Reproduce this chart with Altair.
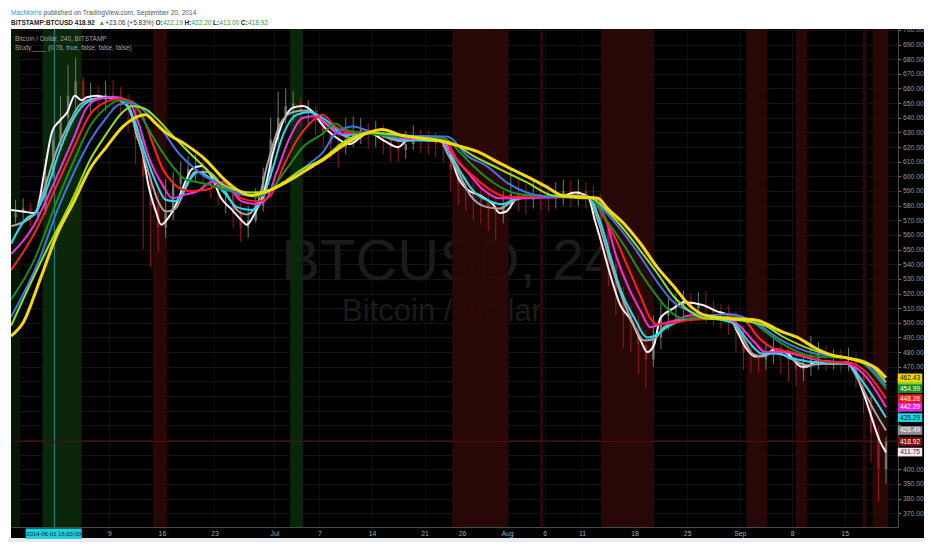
import altair as alt
import pandas as pd

FONT = "Liberation Sans, Arial, sans-serif"
W, H = 887, 498

X_DOMAIN = [-5.11, 113.1]        # days since 2014-06-01 00:00
Y_DOMAIN = [360.6, 700.6]

TICK_DAYS = [8, 15, 22, 30, 36, 43, 50, 55, 61, 66, 71, 78, 85, 92, 99, 106]
TICK_LABELS = ["9", "16", "23", "Jul", "7", "14", "21", "26", "Aug", "6", "11", "18", "25", "Sep", "8", "15"]
PRICE_TICKS = list(range(370, 701, 10))
HIDDEN_PRICE_LABELS = [410, 420, 430, 440, 450, 460]   # covered by the last-value tags

# ---- daily price bars (day index from 2014-06-01) ----
BAR_DAY = list(range(-5, 112))
FIRST_OPEN = 572
CLOSE = [575, 578, 572, 576, 600, 625, 640, 655, 665, 650, 655, 652, 656, 655, 650,
         648, 625, 600, 580, 565, 575, 595, 600, 605, 605, 600, 595, 590, 590, 575,
         565, 570, 580, 600, 625, 640, 648, 650, 645, 645, 638, 630, 622, 620, 625,
         630, 632, 628, 630, 625, 620, 618, 622, 628, 625, 624, 622, 620, 605, 595,
         590, 585, 583, 578, 575, 580, 588, 586, 584, 588, 586, 585, 586, 590, 588,
         590, 587, 585, 565, 540, 520, 505, 500, 485, 475, 490, 505, 510, 512, 515,
         510, 512, 510, 507, 505, 503, 495, 480, 478, 475, 478, 483, 478, 475, 468,
         470, 475, 478, 476, 478, 475, 476, 465, 450, 425, 400, 418.92]
HIGH = [584, 585, 582, 583, 612, 632, 655, 676, 681, 668, 664, 662, 665, 666, 661,
        656, 650, 628, 605, 590, 598, 603, 610, 614, 615, 611, 604, 600, 598, 592,
        582, 580, 592, 606, 640, 658, 660, 658, 654, 652, 648, 640, 634, 630, 640,
        641, 640, 636, 638, 635, 630, 628, 631, 635, 632, 631, 630, 628, 622, 610,
        600, 596, 592, 590, 586, 590, 606, 598, 595, 597, 596, 594, 596, 598, 597,
        598, 596, 594, 588, 568, 545, 525, 512, 505, 495, 505, 514, 518, 520, 522,
        520, 521, 522, 516, 513, 512, 508, 498, 488, 485, 487, 491, 488, 484, 480,
        478, 491, 487, 484, 482, 482, 483, 479, 468, 452, 430, 422.2]
LOW = [568, 570, 566, 569, 574, 598, 620, 635, 645, 640, 642, 643, 645, 646, 641,
       630, 608, 550, 538, 548, 558, 570, 590, 594, 596, 590, 585, 580, 575, 565,
       555, 558, 568, 576, 598, 620, 636, 638, 634, 636, 628, 620, 612, 606, 615,
       620, 622, 619, 620, 615, 610, 610, 612, 618, 616, 615, 613, 610, 590, 580,
       576, 570, 568, 563, 556, 568, 578, 576, 574, 578, 577, 576, 578, 580, 579,
       580, 578, 570, 550, 525, 505, 483, 480, 465, 455, 470, 482, 495, 500, 503,
       500, 502, 500, 498, 496, 492, 480, 468, 466, 466, 468, 472, 465, 460, 457,
       460, 464, 468, 467, 468, 466, 467, 456, 438, 405, 378, 390]

# ---- moving-average ribbons (day, price) ----
WHITE_D = [-5.1, -3.5, -2.0, -1.6, -0.7, 0.4, 1.4, 2.4, 3.4, 4.3, 5.0, 6.3, 7.6, 8.9, 10.0, 10.9, 11.5, 12.5, 13.2,
           14.2, 14.9, 15.9, 16.8, 18.1, 19.0, 20.3, 21.6, 22.9, 24.2, 25.6, 26.3, 27.3, 28.6, 29.9, 31.2, 32.5, 33.8,
           35.1, 36.4, 38.1, 40.0, 42.6, 44.7, 46.5, 48.2, 50.5, 52.6, 53.5, 54.4, 55.7, 57.4, 59.1, 60.0, 60.9, 62.3,
           64.4, 67.9, 70.1, 71.8, 72.7, 73.5, 74.8, 76.1, 77.5, 78.8, 79.7, 80.6, 81.4, 83.2, 84.5, 87.2, 88.9, 90.6,
           91.5, 92.8, 94.1, 95.4, 96.7, 98.4, 100.3, 101.0, 102.0, 104.2, 106.3, 107.2, 108.5, 109.8, 110.7, 111.5]
WHITE_P = [577, 576, 575, 578, 602, 631, 638, 644, 655, 652, 654, 655, 654, 653, 650, 644, 631, 614, 594,
           576, 567, 572, 580, 596, 605, 607, 600, 585, 578, 570, 567, 574, 589, 618, 638, 647, 648,
           644, 635, 627, 622, 630, 624, 620, 627, 626, 624, 614, 600, 591, 587, 581, 575, 576, 585,
           587, 586, 589, 586, 570, 556, 532, 512, 502, 488, 480, 485, 503, 510, 514, 512, 508, 505,
           496, 483, 477, 478, 482, 479, 470, 470, 473, 472, 473, 468, 452, 432, 419, 411.75]

GRAY_D = [-5.1, -2.0, -0.7, 1.0, 2.8, 4.1, 5.9, 8.5, 9.8, 10.6, 11.9, 13.2, 14.5, 15.5, 16.8, 18.1, 19.4, 21.1, 23.3,
          25.0, 26.3, 27.7, 29.0, 30.8, 32.5, 34.2, 36.4, 38.7, 40.8, 42.6, 46.9, 50.5, 52.2, 53.1, 54.4, 56.1, 58.3,
          60.0, 61.7, 64.4, 70.1, 71.8, 73.1, 74.4, 75.8, 77.5, 79.3, 80.6, 81.9, 83.6, 86.2, 90.2, 92.4, 93.7, 95.0,
          96.7, 99.0, 101.0, 103.3, 106.3, 107.6, 109.4, 111.5]
GRAY_P = [566, 574, 591, 618, 638, 649, 653, 654, 652, 646, 625, 603, 583, 576, 578, 591, 603, 603, 591,
          577, 574, 581, 607, 636, 644, 645, 638, 629, 626, 630, 624, 626, 624, 615, 604, 587, 579,
          578, 583, 586, 587, 586, 570, 548, 525, 503, 488, 489, 497, 501, 503, 503, 490, 479, 477,
          480, 475, 471, 472, 472, 463, 445, 426.49]

CYAN_D = [-5.1, -2.9, -2.0, -0.3, 1.4, 3.3, 4.6, 6.3, 8.5, 10.2, 11.5, 12.8, 14.2, 15.5, 16.8, 18.5, 19.8, 21.6, 23.3,
          25.0, 26.9, 28.2, 29.5, 31.2, 32.9, 34.7, 36.4, 37.7, 39.4, 42.6, 46.9, 52.2, 53.1, 54.8, 56.5, 58.7, 60.4,
          62.3, 65.3, 71.8, 73.5, 74.8, 76.1, 78.0, 79.7, 80.6, 82.3, 84.5, 87.5, 91.1, 93.2, 95.0, 96.7, 99.7, 102.0,
          106.3, 108.5, 111.5]
CYAN_P = [554, 572, 574, 592, 618, 640, 649, 653, 654, 650, 636, 615, 596, 584, 583, 596, 603, 598, 589,
          579, 577, 582, 601, 629, 642, 644, 640, 635, 628, 630, 625, 624, 618, 603, 590, 583, 581,
          585, 586, 586, 568, 545, 523, 503, 490, 491, 497, 502, 503, 500, 487, 479, 479, 475, 473,
          472, 459, 435.29]

MAGENTA_D = [-5.1, -2.0, -0.3, 1.0, 3.3, 5.0, 6.7, 8.9, 10.6, 11.9, 13.2, 15.1, 16.4, 17.7, 19.8, 21.6, 23.3, 25.6,
             27.7, 29.0, 30.3, 32.1, 33.8, 35.5, 36.8, 38.7, 42.6, 46.9, 52.2, 53.5, 55.7, 57.8, 60.0, 62.3, 71.8,
             74.2, 75.4, 77.1, 78.8, 80.1, 81.4, 83.6, 85.3, 88.9, 91.5, 94.1, 95.4, 97.6, 99.7, 102.0, 106.3, 108.5,
             111.5]
MAGENTA_P = [547, 567, 585, 600, 627, 647, 653, 654, 651, 636, 614, 594, 585, 587, 590, 596, 596, 583,
             581, 585, 603, 627, 640, 641, 636, 629, 630, 626, 625, 616, 603, 591, 585, 585, 586,
             570, 548, 525, 508, 497, 499, 502, 505, 504, 500, 486, 480, 480, 478, 475, 472, 465,
             442.29]

RED_D = [-5.1, -2.0, -1.2, 1.0, 3.3, 5.4, 7.6, 9.3, 11.1, 12.5, 13.8, 15.1, 16.4, 17.7, 19.0, 21.1, 23.3, 25.6, 27.7,
         29.5, 31.2, 32.9, 35.1, 36.4, 38.1, 40.0, 42.6, 46.9, 52.6, 54.4, 56.5, 58.7, 60.9, 63.6, 71.8, 74.0, 75.4,
         77.1, 78.8, 80.1, 81.0, 83.2, 85.3, 88.9, 91.1, 92.8, 94.5, 96.3, 99.0, 101.0, 104.2, 106.3, 108.5, 111.5]
RED_P = [536, 561, 569, 594, 620, 642, 651, 653, 651, 640, 622, 605, 596, 591, 590, 591, 596, 585, 583,
         587, 607, 624, 638, 642, 634, 630, 630, 627, 625, 611, 600, 591, 586, 586, 586, 571, 558,
         538, 518, 503, 499, 500, 502, 503, 505, 501, 490, 483, 480, 477, 473, 473, 468, 448.26]

DKGREEN_D = [-5.1, -2.0, 1.0, 3.3, 5.4, 7.6, 9.3, 11.1, 12.8, 14.5, 16.4, 18.1, 19.8, 21.6, 23.3, 25.6, 27.7, 29.5,
             31.6, 33.8, 36.4, 38.1, 39.4, 42.6, 46.9, 52.6, 54.8, 56.5, 59.1, 61.7, 64.4, 71.8, 74.4, 76.7, 78.8,
             81.0, 82.3, 84.5, 88.9, 92.8, 95.4, 97.6, 102.0, 106.3, 108.5, 111.5]
DKGREEN_P = [516, 543, 583, 611, 634, 647, 652, 650, 636, 621, 607, 598, 596, 594, 591, 588, 586, 591,
             605, 620, 629, 636, 632, 629, 627, 626, 616, 607, 596, 589, 587, 586, 569, 552, 534,
             518, 510, 503, 504, 503, 494, 486, 477, 476, 472, 454.99]

BLUE_D = [-5.1, -1.2, 1.0, 3.3, 5.4, 7.6, 9.3, 11.1, 12.8, 15.1, 17.2, 19.0, 20.7, 22.4, 24.6, 26.9, 29.0, 32.1,
          34.7, 36.4, 38.1, 40.4, 42.6, 46.9, 53.1, 55.7, 58.3, 60.9, 63.6, 67.0, 71.8, 74.4, 76.7, 78.8, 81.0,
          83.2, 85.3, 87.5, 90.6, 94.1, 97.6, 102.0, 106.3, 108.5, 111.5]
BLUE_P = [504, 545, 576, 603, 624, 640, 649, 650, 644, 631, 616, 607, 600, 596, 589, 587, 589, 598,
          609, 616, 629, 634, 631, 628, 627, 614, 607, 596, 589, 586, 586, 574, 560, 545, 528,
          514, 508, 505, 506, 500, 488, 479, 476.5, 473, 457]

LTGREEN_D = [-5.1, -1.2, 3.3, 5.4, 7.6, 9.8, 11.1, 12.8, 14.2, 16.4, 18.5, 20.7, 22.4, 24.6, 26.9, 29.0, 31.2, 33.4,
             36.4, 39.4, 42.6, 46.9, 53.5, 56.5, 60.0, 63.6, 67.0, 70.9, 72.2, 74.4, 76.7, 78.8, 81.0, 83.2, 85.3,
             87.5, 91.5, 95.4, 97.6, 102.0, 106.3, 108.5, 111.5]
LTGREEN_P = [498, 541, 587, 611, 629, 644, 648, 646, 640, 628, 617, 606, 597, 591, 589, 590, 596, 604,
             612, 624, 630, 628, 623, 614, 605, 596, 587, 585, 585, 576, 563, 549, 534, 518, 508,
             503, 502, 498, 491, 481, 476, 474, 459.3]

YELLOW_D = [-5.1, -3.5, -1.2, 1.0, 3.3, 5.4, 7.6, 9.8, 11.1, 12.8, 14.2, 15.5, 18.1, 20.7, 23.3, 25.3, 26.9, 28.6,
            30.8, 32.9, 35.1, 36.4, 39.4, 42.6, 44.3, 46.9, 49.5, 52.2, 54.4, 57.0, 60.0, 63.6, 66.2, 68.3, 70.9,
            73.1, 74.4, 76.7, 78.8, 81.0, 83.2, 85.3, 87.5, 90.6, 94.1, 97.6, 99.7, 102.0, 104.2, 106.3, 108.5,
            110.2, 111.5]
YELLOW_P = [491, 500, 530, 560, 583, 605, 620, 634, 639, 642, 636, 630, 622, 612, 598, 590, 587, 589,
            594, 600, 607, 611, 622, 630, 632, 628, 626, 624, 621, 617, 609, 600, 593, 587, 586,
            585, 578, 567, 554, 538, 525, 512, 505, 503, 502, 494, 490, 483, 478, 476, 473,
            469, 462.43]

SERIES = [
    ("white", WHITE_D, WHITE_P, "#fbf1f5", 2.0),
    ("gray", GRAY_D, GRAY_P, "#a4a4a4", 2.0),
    ("cyan", CYAN_D, CYAN_P, "#19e3ef", 2.0),
    ("magenta", MAGENTA_D, MAGENTA_P, "#f52ee0", 2.0),
    ("red", RED_D, RED_P, "#ff2020", 2.0),
    ("dkgreen", DKGREEN_D, DKGREEN_P, "#16901a", 2.0),
    ("blue", BLUE_D, BLUE_P, "#3f74e6", 2.0),
    ("ltgreen", LTGREEN_D, LTGREEN_P, "#8fe31f", 2.0),
    ("yellow", YELLOW_D, YELLOW_P, "#f7d70f", 3.0),
]

# ---- background bands (day start, day end, colour) ----
BAND_START = [-5.11, -0.9, 13.8, 32.1, 53.7, 65.4, 73.5, 92.9, 99.5, 108.4, 109.7]
BAND_END = [-3.9, 4.3, 15.7, 33.8, 61.2, 65.8, 80.6, 95.7, 101.0, 108.9, 111.8]
BAND_COLOR = ["#071907", "#0b2a0b", "#2b0808", "#0b2a0b", "#2b0808", "#2b0808",
              "#2b0808", "#2b0808", "#2b0808", "#2b0808", "#2b0808"]

# ---- last values shown on the price scale ----
END_VALUES = [459.3, 462.43, 454.99, 448.26, 442.29, 435.29, 426.49, 418.92, 411.75]
END_FILL = ["#84d81e", "#efd20c", "#198a1d", "#e61b1b", "#e622d9", "#19d9e6", "#8f8f8f", "#7d0f0f", "#f6e6f0"]
END_TEXT = ["", "#1a1a1a", "#ffffff", "#ffffff", "#ffffff", "#0a2a2a", "#ffffff", "#ffffff", "#333333"]

CURSOR_DAY = 0.67
LAST_CLOSE = 418.92

xs = alt.Scale(domain=X_DOMAIN, nice=False, zero=False)
ys = alt.Scale(domain=Y_DOMAIN, nice=False, zero=False)
label_expr = "%s[indexof(%s, datum.value)]" % (
    "[" + ",".join("'%s'" % s for s in TICK_LABELS) + "]",
    "[" + ",".join(str(v) for v in TICK_DAYS) + "]")
ylabel_expr = "indexof([%s], datum.value) >= 0 ? '' : format(datum.value, '.2f')" % (
    ",".join(str(v) for v in HIDDEN_PRICE_LABELS))
xaxis = alt.Axis(values=TICK_DAYS, labelExpr=label_expr, ticks=False, labelPadding=3,
                 labelColor="#a8a8a8", labelFontSize=6.8, labelFont=FONT, domainColor="#4a4a4a",
                 grid=True, gridColor="#0f0f0f", title=None, labelFlush=False)
yaxis = alt.Axis(orient="right", values=PRICE_TICKS, labelExpr=ylabel_expr, labelColor="#9a9a9a",
                 labelFontSize=6.8, labelFont=FONT, tickColor="#777777", tickSize=2.5,
                 labelPadding=2, domainColor="#4a4a4a", grid=True, gridColor="#151515",
                 title=None, labelOverlap=False, labelFlush=False)


def X(field):
    return alt.X(field, scale=xs, axis=xaxis)


def Y(field):
    return alt.Y(field, scale=ys, axis=yaxis)


def txt(s, x, y, color, size, weight="normal", align="left"):
    return alt.Chart(pd.DataFrame({"s": [s]})).mark_text(
        font=FONT, fontSize=size, fontWeight=weight, align=align, baseline="middle", color=color
    ).encode(text="s:N", x=alt.value(x), y=alt.value(y))


def box(x0, x1, y0, y1, color):
    return alt.Chart(pd.DataFrame({"a": [0]})).mark_rect(color=color).encode(
        x=alt.value(x0), x2=alt.value(x1), y=alt.value(y0), y2=alt.value(y1))


layers = []

# watermark
layers.append(txt("BTCUSD, 240", 454, 234, "#1b1b1b", 58, align="center"))
layers.append(txt("Bitcoin / Dollar", 431, 283, "#1b1b1b", 31, align="center"))

# bands
bands = pd.DataFrame({"s": BAND_START, "e": BAND_END, "col": BAND_COLOR})
layers.append(alt.Chart(bands).mark_rect(opacity=0.92).encode(
    x=X("s:Q"), x2="e:Q", y=alt.value(0), y2=alt.value(H), color=alt.Color("col:N", scale=None)))

# cursor + price lines
layers.append(alt.Chart(pd.DataFrame({"d": [CURSOR_DAY]})).mark_rule(color="#1d8f95", strokeWidth=1).encode(x=X("d:Q")))
layers.append(alt.Chart(pd.DataFrame({"p": [LAST_CLOSE]})).mark_rule(color="#5a0d0d", strokeWidth=1).encode(y=Y("p:Q")))

# candles
opens = [FIRST_OPEN] + CLOSE[:-1]
bars = pd.DataFrame({"t": [d + 0.5 for d in BAR_DAY], "o": opens, "h": HIGH, "l": LOW, "c": CLOSE})
bars["col"] = ["#6e7a64" if c >= o else "#951a1a" for o, c in zip(bars["o"], bars["c"])]
layers.append(alt.Chart(bars).mark_rule(strokeWidth=1).encode(
    x=X("t:Q"), y=Y("l:Q"), y2="h:Q", color=alt.Color("col:N", scale=None)))
layers.append(alt.Chart(bars).mark_rule(strokeWidth=2.4).encode(
    x=X("t:Q"), y=Y("o:Q"), y2="c:Q", color=alt.Color("col:N", scale=None)))

# moving averages
for name, days, prices, color, sw in SERIES:
    df = pd.DataFrame({"day": days, "price": prices})
    layers.append(alt.Chart(df).mark_line(color=color, strokeWidth=sw, interpolate="monotone").encode(
        x=X("day:Q"), y=Y("price:Q")))

# overlay legend text
layers.append(txt("Bitcoin / Dollar, 240, BITSTAMP", 4, 9.5, "#a3a3a3", 6.5))
layers.append(txt("Study____ (0.76, true, false, false, false)", 4, 18.5, "#a3a3a3", 6.5))

# page frame (header, left edge, bottom edge)
layers.append(box(-3, 913, -21, 0, "#ffffff"))
layers.append(box(-3, 0, 0, H + 15, "#ffffff"))
layers.append(box(-3, 913, H + 11, H + 15, "#e8eaed"))

# header text
layers.append(txt("MacMorris", 0, -15.7, "#3b8fd9", 6.6))
layers.append(txt("published on TradingView.com, September 20, 2014", 32.6, -15.7, "#555555", 6.6))
layers.append(txt("BITSTAMP:BTCUSD 418.92", 0, -6, "#222222", 6.5, weight="bold"))
layers.append(txt("\u25b2", 87.5, -6, "#2ca02c", 6.5))
layers.append(txt("+23.06 (+5.83%)", 94.3, -6, "#333333", 6.5))
for lab, val, xp, lw in [("O:", "422.19", 144.5, 7.4), ("H:", "422.20", 173.4, 7.1),
                         ("L:", "413.00", 202.0, 6.3), ("C:", "418.92", 229.8, 7.1)]:
    layers.append(txt(lab, xp, -6, "#222222", 6.5, weight="bold"))
    layers.append(txt(val, xp + lw, -6, "#2e9e3e", 6.5))

# last-value tags
tags = pd.DataFrame({"v": END_VALUES, "fill": END_FILL, "tc": END_TEXT,
                     "lbl": ["%.2f" % v for v in END_VALUES]})
tag_shape = "M-1,-0.355L1,-0.355L1,0.355L-1,0.355Z"
for i in range(len(tags)):
    one = tags.iloc[[i]]
    layers.append(alt.Chart(one).mark_point(shape=tag_shape, size=600, filled=True, opacity=1, strokeWidth=0).encode(
        x=alt.value(899), y=Y("v:Q"), fill=alt.Fill("fill:N", scale=None)))
    if END_TEXT[i]:
        layers.append(alt.Chart(one).mark_text(font=FONT, fontSize=6.6, align="center", baseline="middle").encode(
            x=alt.value(899), y=Y("v:Q"), text="lbl:N", color=alt.Color("tc:N", scale=None)))

# cursor time tag
layers.append(box(14.7, 70.7, 499.4, 510.1, "#1fcfe0"))
layers.append(txt("2014-06-01 16:00:00", 42.7, 504.8, "#06262a", 5.9, align="center"))

chart = alt.layer(*layers).properties(
    width=W, height=H,
    padding={"left": 3, "top": 21, "right": 26, "bottom": 15},
    autosize=alt.AutoSizeParams(type="none"),
).configure(background="#000000").configure_view(stroke=None)

chart.save("out.html", embed_options={"renderer": "svg", "actions": False})
